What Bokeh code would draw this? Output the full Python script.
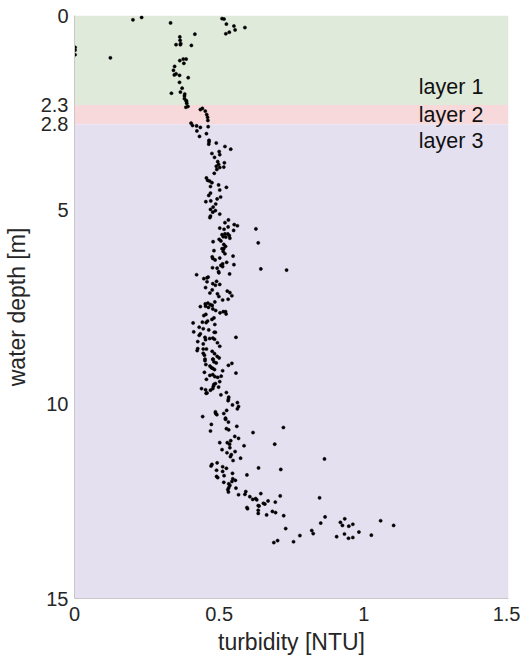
from bokeh.plotting import figure
from bokeh.models import Range1d, FixedTicker, ColumnDataSource, NumeralTickFormatter
from bokeh.core.properties import value
from bokeh.embed import file_html
from bokeh.resources import INLINE

# ---------------- data ----------------
layer_names = ["layer 1", "layer 2", "layer 3"]
layer_top = [0.0, 2.3, 2.8]
layer_bottom = [2.3, 2.8, 15.0]
layer_colors = ["#dfeadb", "#f7d9dc", "#e5e0f0"]
layer_label_depth = [1.85, 2.55, 3.23]
layer_label_x = [1.19, 1.19, 1.19]

x_ticks = [0, 0.5, 1, 1.5]
y_ticks = [0, 2.3, 2.8, 5, 10, 15]

turb_a = [0.202, 0.232, 0.332, 0.510, 0.517, 0.525, 0.551, 0.555, 0.589, 0.535,
          0.523, 0.416, 0.364, 0.365, 0.367, 0.366, 0.351, 0.404, 0.002, 0.002,
          0.002, 0.124, 0.364, 0.376, 0.386, 0.378, 0.346, 0.342, 0.345, 0.351,
          0.363, 0.393, 0.363, 0.372, 0.335, 0.366, 0.381, 0.380, 0.380, 0.386,
          0.388]
depth_a = [0.11, 0.05, 0.19, 0.08, 0.09, 0.22, 0.27, 0.37, 0.31, 0.43,
           0.47, 0.48, 0.55, 0.64, 0.72, 0.75, 0.75, 0.77, 0.82, 0.89,
           1.01, 1.09, 1.16, 1.12, 1.12, 1.23, 1.31, 1.41, 1.53, 1.50,
           1.54, 1.60, 1.72, 1.87, 2.00, 1.97, 2.02, 2.07, 2.14, 2.19,
           2.26]

turb_b = [0.387, 0.385, 0.392, 0.435, 0.442, 0.452, 0.457, 0.460, 0.461, 0.403,
          0.408, 0.422, 0.435, 0.462, 0.423, 0.456, 0.432, 0.465, 0.465, 0.464,
          0.490, 0.520, 0.540, 0.475, 0.500, 0.502, 0.484, 0.495, 0.518, 0.498,
          0.490, 0.502, 0.516, 0.492, 0.483, 0.456, 0.460, 0.467, 0.475, 0.498,
          0.470, 0.525, 0.502]
depth_b = [2.21, 2.36, 2.34, 2.42, 2.39, 2.46, 2.55, 2.62, 2.70, 2.77,
           2.83, 2.84, 2.88, 2.86, 2.97, 3.04, 3.11, 3.21, 3.25, 3.31,
           3.28, 3.37, 3.44, 3.55, 3.50, 3.58, 3.65, 3.76, 3.79, 3.83,
           3.88, 3.91, 3.90, 3.96, 4.06, 4.18, 4.24, 4.26, 4.30, 4.36,
           4.40, 4.42, 4.49]

turb_c = [0.470, 0.464, 0.493, 0.505, 0.454, 0.471, 0.488, 0.479, 0.470, 0.487,
          0.478, 0.502, 0.470, 0.468, 0.532, 0.520, 0.552, 0.563, 0.502, 0.517,
          0.531, 0.627, 0.550, 0.520, 0.510, 0.530, 0.535, 0.523, 0.514, 0.500,
          0.506, 0.537, 0.479, 0.516, 0.522, 0.516, 0.510, 0.635, 0.482, 0.514,
          0.520, 0.476, 0.478, 0.486, 0.502, 0.548, 0.526, 0.512, 0.506, 0.512,
          0.551, 0.477, 0.493, 0.498, 0.499, 0.644, 0.733, 0.536, 0.422]
depth_c = [4.57, 4.63, 4.72, 4.67, 4.79, 4.77, 4.85, 4.93, 4.99, 5.02,
           5.06, 5.11, 5.16, 5.20, 5.26, 5.33, 5.38, 5.41, 5.47, 5.50,
           5.44, 5.49, 5.53, 5.62, 5.64, 5.62, 5.66, 5.70, 5.69, 5.76,
           5.80, 5.73, 5.82, 5.89, 5.94, 6.00, 6.00, 5.85, 6.05, 6.07,
           6.13, 6.21, 6.25, 6.29, 6.24, 6.19, 6.35, 6.39, 6.43, 6.46,
           6.41, 6.49, 6.50, 6.59, 6.62, 6.52, 6.55, 6.65, 6.67]

turb_d = [0.447, 0.458, 0.462, 0.458, 0.478, 0.487, 0.491, 0.502, 0.453, 0.476,
          0.468, 0.494, 0.499, 0.528, 0.537, 0.544, 0.512, 0.531, 0.485, 0.452,
          0.461, 0.470, 0.453, 0.476, 0.463, 0.435, 0.478, 0.488, 0.503, 0.514,
          0.522, 0.524, 0.447, 0.454, 0.482, 0.475, 0.460, 0.442, 0.455, 0.485,
          0.410, 0.431, 0.445, 0.464, 0.483, 0.487, 0.412, 0.435, 0.431, 0.451,
          0.453, 0.467, 0.478, 0.484, 0.558, 0.426, 0.445, 0.494, 0.502, 0.426,
          0.424, 0.445, 0.456, 0.445, 0.449, 0.476, 0.484, 0.493, 0.500, 0.478,
          0.451]
depth_d = [6.77, 6.75, 6.73, 6.85, 6.90, 6.94, 6.84, 6.92, 7.00, 7.06,
           7.14, 7.16, 7.23, 7.09, 7.13, 7.21, 7.32, 7.30, 7.37, 7.42,
           7.40, 7.44, 7.48, 7.46, 7.51, 7.49, 7.55, 7.59, 7.65, 7.62,
           7.62, 7.68, 7.72, 7.69, 7.78, 7.82, 7.86, 7.89, 7.90, 7.95,
           7.91, 8.02, 8.06, 8.09, 8.15, 8.15, 8.14, 8.19, 8.23, 8.28,
           8.34, 8.31, 8.30, 8.33, 8.28, 8.39, 8.45, 8.42, 8.51, 8.57,
           8.62, 8.58, 8.58, 8.69, 8.74, 8.64, 8.70, 8.77, 8.81, 8.84,
           8.84]

turb_e = [0.451, 0.454, 0.479, 0.482, 0.490, 0.532, 0.544, 0.468, 0.473, 0.478,
          0.484, 0.512, 0.449, 0.558, 0.468, 0.478, 0.485, 0.495, 0.507, 0.456,
          0.502, 0.482, 0.487, 0.480, 0.498, 0.439, 0.453, 0.470, 0.478, 0.455,
          0.458, 0.525, 0.506, 0.533, 0.532, 0.531, 0.563, 0.567, 0.563, 0.546,
          0.487, 0.488, 0.492, 0.516, 0.526, 0.443, 0.522, 0.522, 0.532, 0.473,
          0.561, 0.525, 0.533, 0.470, 0.617, 0.722, 0.554, 0.567, 0.540, 0.528,
          0.536, 0.502, 0.586, 0.692, 0.537, 0.510]
depth_e = [8.88, 8.98, 8.85, 8.91, 8.94, 9.00, 8.95, 9.02, 9.06, 9.08,
           9.11, 9.14, 9.18, 9.20, 9.26, 9.24, 9.29, 9.31, 9.28, 9.36,
           9.42, 9.49, 9.47, 9.54, 9.56, 9.60, 9.63, 9.64, 9.60, 9.72,
           9.71, 9.70, 9.76, 9.82, 9.87, 9.91, 9.96, 10.06, 10.12, 10.02,
           10.20, 10.24, 10.27, 10.24, 10.16, 10.32, 10.36, 10.39, 10.46, 10.52,
           10.57, 10.63, 10.66, 10.69, 10.73, 10.60, 10.83, 10.88, 10.94, 10.99,
           11.03, 10.99, 11.07, 11.03, 11.12, 11.17]

turb_f = [0.527, 0.539, 0.542, 0.555, 0.548, 0.574, 0.864, 0.475, 0.472, 0.493,
          0.512, 0.525, 0.491, 0.512, 0.636, 0.713, 0.546, 0.596, 0.491, 0.495,
          0.517, 0.547, 0.556, 0.544, 0.516, 0.533, 0.537, 0.533, 0.530, 0.532,
          0.558, 0.592, 0.589, 0.567, 0.644, 0.711, 0.847, 0.606, 0.616, 0.626,
          0.630, 0.653, 0.658, 0.669, 0.694, 0.596, 0.598, 0.635, 0.635, 0.638,
          0.635, 0.684, 0.695, 0.664, 0.723, 0.730, 0.689, 0.702, 0.757, 0.779,
          0.820, 0.825, 0.851, 0.866, 0.906, 0.919, 0.926, 0.934, 0.933, 0.948,
          0.947, 0.962, 0.962, 0.983, 1.026, 1.058, 1.103]
depth_f = [11.25, 11.35, 11.30, 11.22, 11.45, 11.39, 11.41, 11.55, 11.59, 11.51,
           11.61, 11.65, 11.70, 11.73, 11.64, 11.68, 11.78, 11.82, 11.86, 11.89,
           11.84, 11.92, 11.96, 11.99, 12.01, 12.05, 12.09, 12.15, 12.20, 12.26,
           12.16, 12.25, 12.32, 12.33, 12.30, 12.36, 12.41, 12.38, 12.45, 12.43,
           12.46, 12.55, 12.57, 12.49, 12.52, 12.66, 12.69, 12.61, 12.73, 12.62,
           12.81, 12.76, 12.79, 12.85, 12.87, 13.20, 13.56, 13.51, 13.54, 13.38,
           13.25, 13.33, 13.06, 12.90, 13.41, 13.04, 13.12, 12.95, 13.34, 13.14,
           13.45, 13.09, 13.43, 13.29, 13.37, 13.00, 13.12]

turbidity = turb_a + turb_b + turb_c + turb_d + turb_e + turb_f
depth = depth_a + depth_b + depth_c + depth_d + depth_e + depth_f
n = min(len(turbidity), len(depth))
turbidity, depth = turbidity[:n], depth[:n]

# ---------------- figure ----------------
FONT = "Liberation Sans"
TXT = "#262626"

p = figure(width=520, height=659,
           x_range=Range1d(0, 1.5), y_range=Range1d(15, 0),
           output_backend="svg", toolbar_location=None,
           min_border_left=74, min_border_right=12,
           min_border_top=15, min_border_bottom=61)
p.outline_line_color = None
p.xgrid.visible = False
p.ygrid.visible = False
p.background_fill_color = "white"
p.border_fill_color = "white"

bands = ColumnDataSource(dict(top=layer_top, bottom=layer_bottom, color=layer_colors))
p.quad(left=0, right=1.5, top="top", bottom="bottom", fill_color="color",
       line_color=None, source=bands)

pts = ColumnDataSource(dict(x=turbidity, y=depth))
p.scatter("x", "y", source=pts, size=3.2, fill_color="black", line_color="black",
          line_width=0.5)

labels = ColumnDataSource(dict(x=layer_label_x, y=layer_label_depth, t=layer_names))
p.text("x", "y", text="t", source=labels, text_font=value(FONT),
       text_font_size="21.5px", text_color="#111111",
       text_align="left", text_baseline="middle")

p.xaxis.ticker = FixedTicker(ticks=x_ticks)
p.yaxis.ticker = FixedTicker(ticks=y_ticks)
p.xaxis.formatter = NumeralTickFormatter(format="0.[0]")
p.yaxis.formatter = NumeralTickFormatter(format="0.[0]")
p.xaxis.axis_label = "turbidity [NTU]"
p.yaxis.axis_label = "water depth [m]"
for ax in (p.xaxis[0], p.yaxis[0]):
    ax.axis_line_color = "#c8c8c8"
    ax.major_tick_in = 0
    ax.major_tick_out = 0
    ax.minor_tick_in = 0
    ax.minor_tick_out = 0
    ax.major_label_text_font = FONT
    ax.major_label_text_font_size = "20px"
    ax.major_label_text_color = TXT
    ax.axis_label_text_font = FONT
    ax.axis_label_text_font_size = "23px"
    ax.axis_label_text_font_style = "normal"
    ax.axis_label_text_color = TXT
p.xaxis.major_label_standoff = 8
p.xaxis.axis_label_standoff = 5
p.yaxis.major_label_standoff = 6
p.yaxis.axis_label_standoff = 8

open("out.html", "w").write(file_html(p, INLINE))
